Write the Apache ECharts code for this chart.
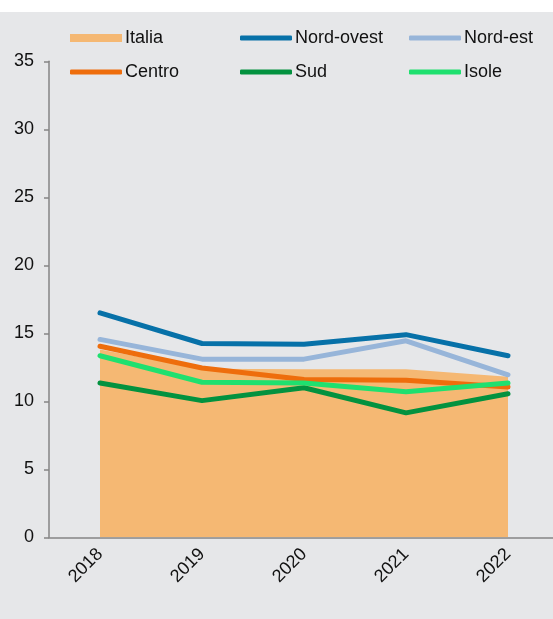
<!DOCTYPE html>
<html>
<head>
<meta charset="utf-8">
<script src="https://cdn.jsdelivr.net/npm/echarts@6/dist/echarts.min.js"></script>
<style>
html,body{margin:0;padding:0;background:#e6e7e9;overflow:hidden;}
body{width:553px;height:619px;}
#c{width:560px;height:619px;}
</style>
</head>
<body>
<div id="c"></div>
<script>
var years = ['2018', '2019', '2020', '2021', '2022'];
var italia = [13.8, 12.4, 12.35, 12.35, 11.8];
var nordOvest = [16.5, 14.25, 14.2, 14.9, 13.35];
var nordEst = [14.55, 13.1, 13.1, 14.45, 11.95];
var centro = [14.05, 12.45, 11.6, 11.55, 11.05];
var sud = [11.35, 10.05, 11.0, 9.15, 10.55];
var isole = [13.35, 11.4, 11.35, 10.7, 11.35];
var yTicks = [0, 5, 10, 15, 20, 25, 30, 35];

var FONT = 'Liberation Sans, Arial, sans-serif';
var FS = 18;
var colors = {
  'Italia': '#f5b873',
  'Nord-ovest': '#0771a8',
  'Nord-est': '#97b5d9',
  'Centro': '#ee6d0c',
  'Sud': '#03923f',
  'Isole': '#1fe06f'
};

function lineSeries(name, data) {
  return {
    name: name, type: 'line', data: data, symbol: 'none',
    lineStyle: {width: 5, color: colors[name], cap: 'round', join: 'round'},
    itemStyle: {color: colors[name]}
  };
}

function legendFor(name, left, top, isArea) {
  return {
    data: [{name: name, icon: isArea ? 'rect' : 'roundRect'}],
    left: left, top: top,
    itemWidth: 52, itemHeight: isArea ? 8 : 5, itemGap: 0,
    textStyle: {fontFamily: FONT, fontSize: FS, color: '#111', padding: [0, 0, 0, -2]},
    padding: 0
  };
}

var chart = echarts.init(document.getElementById('c'));
chart.setOption({
  backgroundColor: '#e6e7e9',
  animation: false,
  graphic: [{type: 'rect', shape: {x: 0, y: 0, width: 560, height: 12}, style: {fill: '#ffffff'}}],
  legend: [
    legendFor('Italia', 70, 29, true),
    legendFor('Nord-ovest', 240, 29),
    legendFor('Nord-est', 409, 29),
    legendFor('Centro', 70, 63),
    legendFor('Sud', 240, 63),
    legendFor('Isole', 409, 63)
  ],
  grid: {left: 49, width: 510, top: 61.3, height: 476, containLabel: false},
  xAxis: {
    type: 'category', data: years, boundaryGap: true,
    axisLine: {lineStyle: {color: '#858585', width: 1.5}},
    axisTick: {length: 5, lineStyle: {color: '#858585', width: 1.5}},
    axisLabel: {rotate: 45, margin: 14, fontFamily: FONT, fontSize: FS, color: '#111'}
  },
  yAxis: {
    type: 'value', min: yTicks[0], max: yTicks[yTicks.length - 1], interval: 5,
    splitLine: {show: false},
    axisLine: {show: true, lineStyle: {color: '#858585', width: 1.5}},
    axisTick: {show: true, length: 5, lineStyle: {color: '#858585', width: 1.5}},
    axisLabel: {margin: 15, fontFamily: FONT, fontSize: FS, color: '#111'}
  },
  series: [
    {
      name: 'Italia', type: 'line', data: italia, symbol: 'none',
      lineStyle: {width: 0, color: colors['Italia']},
      itemStyle: {color: colors['Italia']},
      areaStyle: {color: colors['Italia'], opacity: 1}
    },
    lineSeries('Nord-ovest', nordOvest),
    lineSeries('Nord-est', nordEst),
    lineSeries('Centro', centro),
    lineSeries('Sud', sud),
    lineSeries('Isole', isole)
  ]
});
</script>
</body>
</html>
